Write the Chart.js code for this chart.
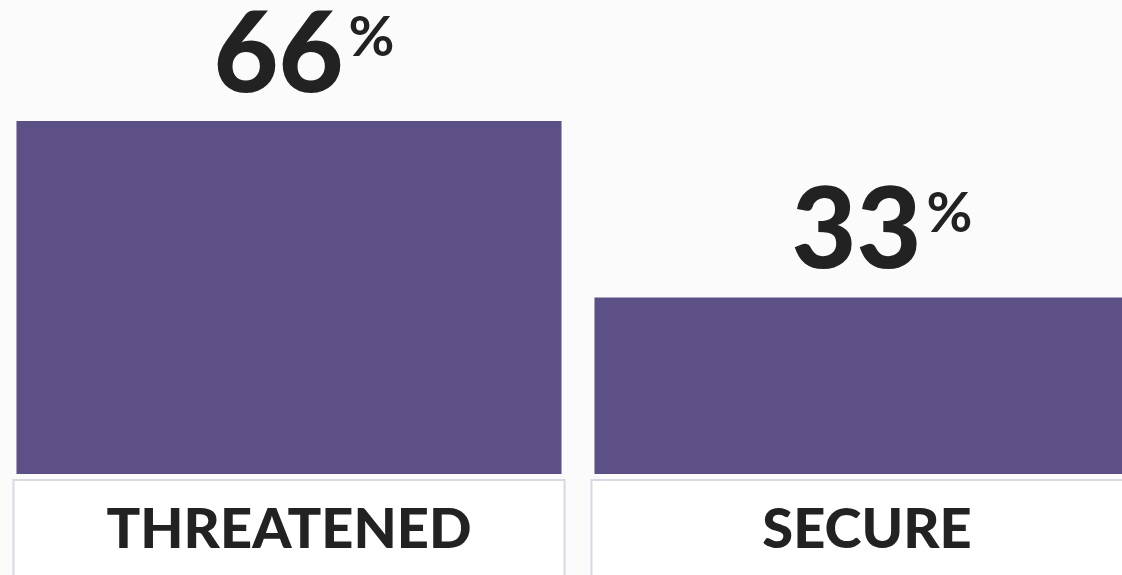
<!DOCTYPE html>
<html>
<head>
<meta charset="utf-8">
<script src="https://cdn.jsdelivr.net/npm/chart.js@4.4.1/dist/chart.umd.min.js"></script>
<style>
  html, body { margin: 0; padding: 0; overflow: hidden; background: #fbfbfc; }
  #wrap { position: relative; width: 1156px; height: 575px; }
</style>
</head>
<body>
<div id="wrap"><canvas id="myChart"></canvas></div>
<script>
// values
const categories = ['THREATENED', 'SECURE'];
const shares = [66, 33];
const valueSuffix = '%';

const barColor = '#5d5086';
const textColor = '#222222';
const fontFamily = 'Lato, "Open Sans", "DejaVu Sans", sans-serif';

// draws the white label boxes under the bars, before the axis text
const labelBoxes = {
    id: 'labelBoxes',
    beforeDraw(chart) {
        const ctx = chart.ctx;
        const bottom = chart.chartArea.bottom;
        const meta = chart.getDatasetMeta(0);
        ctx.save();
        meta.data.forEach(bar => {
            const half = bar.width / 2 + 3;
            ctx.fillStyle = '#ffffff';
            ctx.fillRect(bar.x - half, bottom + 5, half * 2, chart.height - bottom);
            ctx.strokeStyle = '#dad8e3';
            ctx.lineWidth = 2;
            ctx.strokeRect(bar.x - half, bottom + 6, half * 2, chart.height - bottom + 10);
        });
        ctx.restore();
    }
};

// big numbers with a small percent sign above each bar
const valueLabels = {
    id: 'valueLabels',
    afterDatasetsDraw(chart) {
        const ctx = chart.ctx;
        const meta = chart.getDatasetMeta(0);
        ctx.save();
        ctx.fillStyle = textColor;
        ctx.textBaseline = 'alphabetic';
        meta.data.forEach((bar, i) => {
            const num = String(shares[i]);
            ctx.font = '900 112px ' + fontFamily;
            const wNum = ctx.measureText(num).width;
            ctx.font = '700 56px ' + fontFamily;
            const wPct = ctx.measureText(valueSuffix).width;
            const gap = 5;
            const left = bar.x + 15 - (wNum + gap + wPct) / 2;
            const base = bar.y - 29;
            ctx.font = '900 112px ' + fontFamily;
            ctx.textAlign = 'left';
            ctx.fillText(num, left, base);
            ctx.font = '700 56px ' + fontFamily;
            ctx.fillText(valueSuffix, left + wNum + gap, base - 36);
        });
        ctx.restore();
    }
};

const ctx = document.getElementById('myChart').getContext('2d');
const myChart = new Chart(ctx, {
    type: 'bar',
    data: {
        labels: categories,
        datasets: [{
            data: shares,
            backgroundColor: barColor,
            borderWidth: 0,
            barPercentage: 0.943,
            categoryPercentage: 1
        }]
    },
    options: {
        responsive: true,
        maintainAspectRatio: false,
        animation: false,
        layout: { padding: 0 },
        plugins: {
            legend: { display: false },
            tooltip: { enabled: false }
        },
        scales: {
            x: {
                grid: { display: false, drawTicks: false },
                border: { display: false },
                ticks: {
                    color: textColor,
                    font: { family: fontFamily, size: 56, weight: '900' },
                    padding: 22,
                    maxRotation: 0,
                    autoSkip: false
                },
                afterFit(scale) { scale.height = 101; }
            },
            y: {
                display: false,
                min: 0,
                max: 88.6
            }
        }
    },
    plugins: [labelBoxes, valueLabels]
});
</script>
</body>
</html>
